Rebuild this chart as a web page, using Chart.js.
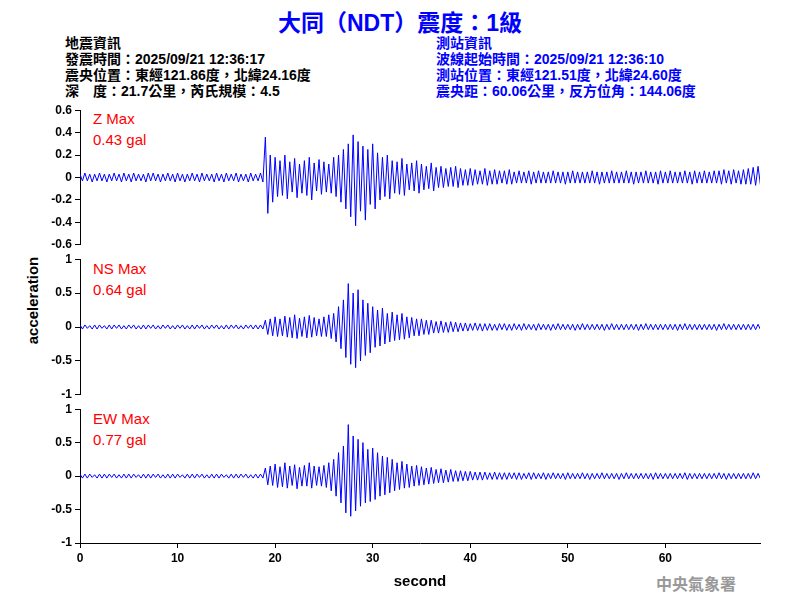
<!DOCTYPE html>
<html><head><meta charset="utf-8">
<script src="https://cdn.jsdelivr.net/npm/chart.js@4"></script>
<style>
body{margin:0;width:800px;height:600px;background:#fff;position:relative;overflow:hidden;font-family:"Liberation Sans",Arial,sans-serif}
.t{position:absolute;white-space:pre;font-family:"Liberation Sans","Noto Sans CJK TC",sans-serif;font-weight:bold}
canvas{position:absolute;left:0}
</style></head><body>
<div class="t" style="left:0;width:800px;text-align:center;top:4px;font-size:23px;color:#0000ff">大同（NDT）震度：1級</div>
<div class="t" style="left:65px;top:35px;font-size:14px;line-height:16px;color:#000">地震資訊
發震時間：2025/09/21 12:36:17
震央位置：東經121.86度，北緯24.16度
深　度：21.7公里，芮氏規模：4.5</div>
<div class="t" style="left:436px;top:35px;font-size:14px;line-height:16px;color:#0000ff">測站資訊
波線起始時間：2025/09/21 12:36:10
測站位置：東經121.51度，北緯24.60度
震央距：60.06公里，反方位角：144.06度</div>
<div class="t" style="left:93px;top:108px;font-size:15px;line-height:21px;color:#ff0000;font-weight:normal">Z Max
0.43 gal</div>
<div class="t" style="left:93px;top:258px;font-size:15px;line-height:21px;color:#ff0000;font-weight:normal">NS Max
0.64 gal</div>
<div class="t" style="left:93px;top:408px;font-size:15px;line-height:21px;color:#ff0000;font-weight:normal">EW Max
0.77 gal</div>
<div class="t" style="left:-18px;top:292px;width:100px;text-align:center;font-size:15px;transform:rotate(-90deg)">acceleration</div>
<div class="t" style="left:656px;top:571px;font-size:16px;color:#999">中央氣象署</div>
<canvas id="c1" width="800" height="155" style="top:100px"></canvas>
<canvas id="c2" width="800" height="156" style="top:249px"></canvas>
<canvas id="c3" width="800" height="196" style="top:399px"></canvas>
<script>
// Half-second envelope peaks (max / min), t = 0 .. 69.5 s
const zMax=[0.03,0.04,0.03,0.03,0.04,0.03,0.03,0.04,0.03,0.04,0.03,0.04,0.03,0.03,0.04,0.04,0.03,0.03,0.04,0.03,0.04,0.03,0.03,0.04,0.03,0.04,0.03,0.03,0.04,0.03,0.04,0.03,0.04,0.03,0.03,0.04,0.03,0.04,0.36,0.20,0.18,0.15,0.20,0.14,0.17,0.12,0.15,0.18,0.13,0.16,0.14,0.12,0.18,0.20,0.25,0.30,0.38,0.32,0.28,0.25,0.30,0.22,0.18,0.20,0.15,0.14,0.17,0.12,0.13,0.15,0.12,0.10,0.13,0.09,0.10,0.08,0.09,0.10,0.08,0.07,0.08,0.07,0.06,0.08,0.06,0.07,0.06,0.06,0.07,0.05,0.06,0.05,0.06,0.05,0.06,0.05,0.05,0.06,0.05,0.05,0.05,0.06,0.05,0.05,0.05,0.06,0.05,0.05,0.05,0.06,0.05,0.05,0.06,0.05,0.05,0.05,0.06,0.05,0.05,0.06,0.05,0.06,0.05,0.05,0.06,0.05,0.06,0.05,0.06,0.05,0.06,0.06,0.07,0.06,0.07,0.06,0.07,0.08,0.09,0.10];
const zMin=[-0.03,-0.03,-0.04,-0.03,-0.03,-0.04,-0.03,-0.03,-0.04,-0.03,-0.04,-0.03,-0.03,-0.04,-0.03,-0.03,-0.04,-0.03,-0.03,-0.04,-0.03,-0.04,-0.03,-0.03,-0.04,-0.03,-0.03,-0.04,-0.03,-0.04,-0.03,-0.03,-0.04,-0.03,-0.04,-0.03,-0.03,-0.04,-0.32,-0.22,-0.17,-0.16,-0.19,-0.13,-0.18,-0.14,-0.16,-0.20,-0.12,-0.15,-0.13,-0.14,-0.17,-0.22,-0.28,-0.35,-0.43,-0.30,-0.38,-0.24,-0.28,-0.20,-0.17,-0.19,-0.14,-0.15,-0.16,-0.11,-0.12,-0.14,-0.11,-0.10,-0.12,-0.09,-0.09,-0.08,-0.08,-0.09,-0.07,-0.07,-0.07,-0.06,-0.06,-0.07,-0.06,-0.06,-0.05,-0.06,-0.06,-0.05,-0.05,-0.05,-0.06,-0.05,-0.05,-0.05,-0.05,-0.05,-0.05,-0.06,-0.05,-0.05,-0.05,-0.05,-0.05,-0.05,-0.06,-0.05,-0.05,-0.05,-0.05,-0.05,-0.05,-0.06,-0.05,-0.05,-0.05,-0.05,-0.06,-0.05,-0.05,-0.05,-0.05,-0.05,-0.05,-0.06,-0.05,-0.05,-0.05,-0.05,-0.05,-0.06,-0.05,-0.06,-0.05,-0.06,-0.06,-0.06,-0.07,-0.07];
const nsMax=[0.03,0.03,0.02,0.03,0.03,0.02,0.03,0.03,0.03,0.02,0.03,0.03,0.02,0.03,0.03,0.03,0.02,0.03,0.03,0.02,0.03,0.03,0.02,0.03,0.03,0.03,0.02,0.03,0.03,0.02,0.03,0.03,0.03,0.02,0.03,0.03,0.03,0.03,0.10,0.12,0.15,0.12,0.16,0.14,0.18,0.13,0.15,0.17,0.14,0.12,0.15,0.18,0.20,0.30,0.40,0.64,0.50,0.55,0.40,0.35,0.30,0.25,0.28,0.20,0.22,0.18,0.20,0.15,0.14,0.12,0.12,0.10,0.10,0.08,0.09,0.07,0.08,0.07,0.06,0.06,0.05,0.06,0.05,0.05,0.05,0.04,0.05,0.05,0.04,0.05,0.04,0.05,0.04,0.04,0.05,0.04,0.04,0.04,0.05,0.04,0.04,0.04,0.04,0.05,0.04,0.04,0.04,0.04,0.04,0.05,0.04,0.04,0.04,0.04,0.04,0.04,0.05,0.04,0.04,0.04,0.04,0.04,0.04,0.04,0.05,0.04,0.04,0.04,0.04,0.04,0.04,0.04,0.05,0.04,0.04,0.04,0.04,0.04,0.04,0.04];
const nsMin=[-0.03,-0.02,-0.03,-0.03,-0.02,-0.03,-0.03,-0.02,-0.03,-0.03,-0.02,-0.03,-0.03,-0.03,-0.02,-0.03,-0.03,-0.02,-0.03,-0.03,-0.02,-0.03,-0.03,-0.03,-0.02,-0.03,-0.03,-0.02,-0.03,-0.03,-0.03,-0.02,-0.03,-0.03,-0.02,-0.03,-0.03,-0.03,-0.11,-0.13,-0.14,-0.13,-0.15,-0.16,-0.17,-0.14,-0.16,-0.15,-0.13,-0.14,-0.14,-0.17,-0.22,-0.32,-0.45,-0.55,-0.60,-0.50,-0.42,-0.38,-0.30,-0.28,-0.25,-0.22,-0.20,-0.19,-0.18,-0.16,-0.13,-0.13,-0.11,-0.11,-0.09,-0.09,-0.08,-0.08,-0.07,-0.07,-0.06,-0.06,-0.05,-0.05,-0.06,-0.05,-0.05,-0.05,-0.04,-0.05,-0.05,-0.04,-0.05,-0.04,-0.04,-0.05,-0.04,-0.04,-0.05,-0.04,-0.04,-0.04,-0.04,-0.05,-0.04,-0.04,-0.04,-0.04,-0.04,-0.05,-0.04,-0.04,-0.04,-0.04,-0.04,-0.04,-0.05,-0.04,-0.04,-0.04,-0.04,-0.04,-0.04,-0.04,-0.05,-0.04,-0.04,-0.04,-0.04,-0.04,-0.04,-0.04,-0.05,-0.04,-0.04,-0.04,-0.04,-0.04,-0.04,-0.04,-0.04,-0.04];
const ewMax=[0.03,0.03,0.03,0.02,0.03,0.03,0.03,0.03,0.02,0.03,0.03,0.03,0.02,0.03,0.03,0.03,0.03,0.02,0.03,0.03,0.03,0.02,0.03,0.03,0.03,0.03,0.02,0.03,0.03,0.03,0.02,0.03,0.03,0.03,0.03,0.02,0.03,0.03,0.12,0.15,0.18,0.14,0.20,0.15,0.17,0.13,0.16,0.20,0.15,0.14,0.16,0.20,0.25,0.35,0.45,0.77,0.60,0.55,0.50,0.40,0.42,0.35,0.30,0.28,0.25,0.20,0.22,0.18,0.15,0.16,0.14,0.12,0.13,0.10,0.11,0.09,0.10,0.08,0.08,0.07,0.07,0.06,0.06,0.06,0.05,0.06,0.05,0.05,0.05,0.05,0.05,0.04,0.05,0.05,0.04,0.05,0.04,0.05,0.04,0.04,0.05,0.04,0.04,0.05,0.04,0.04,0.04,0.05,0.04,0.04,0.04,0.04,0.05,0.04,0.04,0.04,0.04,0.04,0.05,0.04,0.04,0.04,0.04,0.04,0.05,0.04,0.04,0.04,0.04,0.04,0.04,0.05,0.04,0.04,0.04,0.04,0.04,0.04,0.05,0.04];
const ewMin=[-0.03,-0.03,-0.02,-0.03,-0.03,-0.03,-0.02,-0.03,-0.03,-0.03,-0.03,-0.02,-0.03,-0.03,-0.03,-0.02,-0.03,-0.03,-0.03,-0.03,-0.02,-0.03,-0.03,-0.03,-0.02,-0.03,-0.03,-0.03,-0.03,-0.02,-0.03,-0.03,-0.03,-0.02,-0.03,-0.03,-0.03,-0.03,-0.13,-0.14,-0.17,-0.16,-0.18,-0.14,-0.19,-0.15,-0.15,-0.18,-0.14,-0.15,-0.17,-0.22,-0.30,-0.40,-0.55,-0.60,-0.52,-0.45,-0.40,-0.38,-0.35,-0.30,-0.28,-0.25,-0.22,-0.20,-0.18,-0.17,-0.15,-0.14,-0.13,-0.12,-0.11,-0.10,-0.10,-0.09,-0.08,-0.08,-0.07,-0.07,-0.06,-0.06,-0.06,-0.05,-0.05,-0.05,-0.05,-0.05,-0.04,-0.05,-0.05,-0.04,-0.05,-0.04,-0.04,-0.05,-0.04,-0.04,-0.04,-0.05,-0.04,-0.04,-0.04,-0.04,-0.05,-0.04,-0.04,-0.04,-0.04,-0.04,-0.05,-0.04,-0.04,-0.04,-0.04,-0.04,-0.04,-0.05,-0.04,-0.04,-0.04,-0.04,-0.04,-0.04,-0.05,-0.04,-0.04,-0.04,-0.04,-0.04,-0.04,-0.04,-0.05,-0.04,-0.04,-0.04,-0.04,-0.04,-0.04,-0.04];
const step=0.5;
const xTicks=[0,10,20,30,40,50,60];
const zTicks=[-0.6,-0.4,-0.2,0,0.2,0.4,0.6];
const hTicks=[-1,-0.5,0,0.5,1];

function pts(mx,mn){const d=[];for(let i=0;i<mx.length;i++){d.push({x:i*step,y:mx[i]});d.push({x:i*step+step/2,y:mn[i]});}return d;}
const tickFont={family:"Liberation Sans",size:12,weight:"bold"};
function make(id,mx,mn,ticks,showX){
  new Chart(document.getElementById(id),{type:'line',
    data:{datasets:[{data:pts(mx,mn),borderColor:'#0000ff',borderWidth:1,pointRadius:0,tension:0}]},
    options:{responsive:false,animation:false,events:[],
      layout:{padding:{top:8,right:40,bottom:showX?0:2,left:0}},
      plugins:{legend:{display:false},tooltip:{enabled:false}},
      scales:{
        x:{type:'linear',min:0,max:69.7,display:showX,
          afterFit:s=>{if(showX)s.height=52;else s.height=0;},
          afterBuildTicks:s=>{s.ticks=xTicks.map(v=>({value:v}))},
          ticks:{color:'#000',font:tickFont,maxRotation:0},
          grid:{drawOnChartArea:false,tickLength:5,color:'#000'},border:{color:'#000'},
          title:{display:true,text:'second',color:'#000',font:{family:"Liberation Sans",size:15,weight:'bold'},padding:{top:0}}},
        y:{type:'linear',min:ticks[0],max:ticks[ticks.length-1],
          afterFit:s=>{s.width=80},
          afterBuildTicks:s=>{s.ticks=ticks.map(v=>({value:v}))},
          ticks:{color:'#000',font:tickFont,callback:v=>String(Math.round(v*10)/10)},
          grid:{drawOnChartArea:false,tickLength:5,color:'#000'},border:{color:'#000'}}
      }}});
}
make('c1',zMax,zMin,zTicks,false);
make('c2',nsMax,nsMin,hTicks,false);
make('c3',ewMax,ewMin,hTicks,true);
</script></body></html>
